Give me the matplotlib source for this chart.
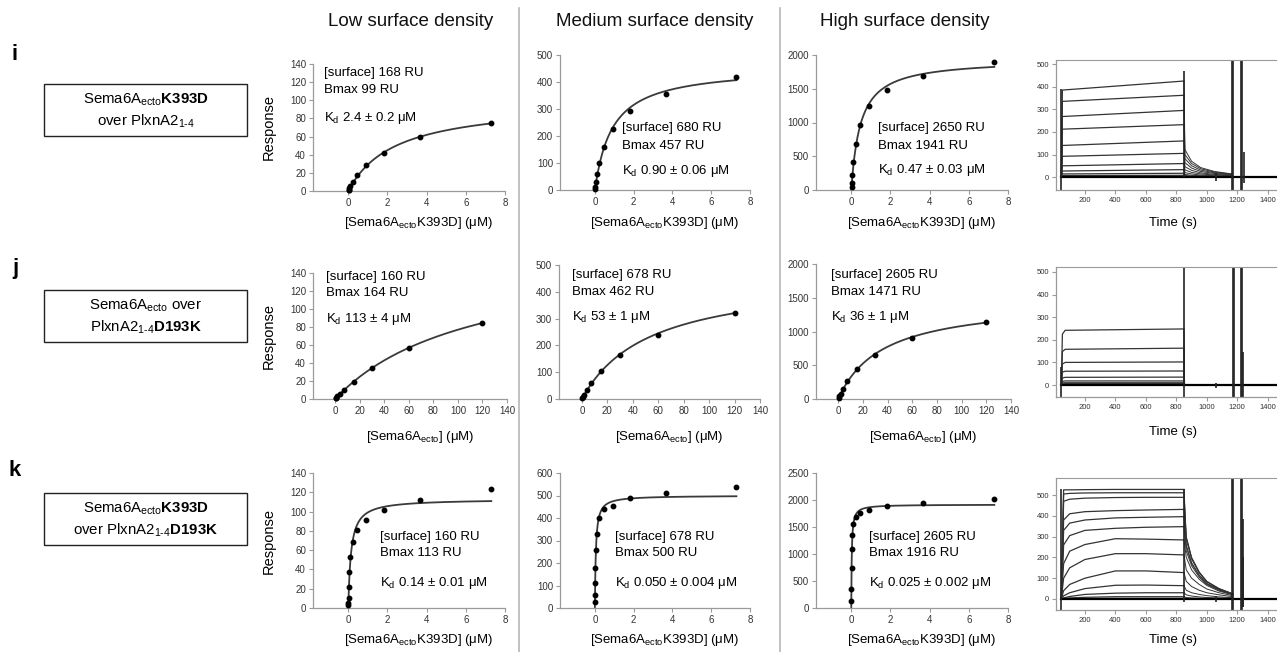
import numpy as np
import matplotlib.pyplot as plt
from matplotlib.patches import Rectangle

plt.rcParams['font.family'] = ['Liberation Sans', 'DejaVu Sans']
plt.rcParams['mathtext.fontset'] = 'custom'
plt.rcParams['mathtext.rm'] = 'Liberation Sans'
plt.rcParams['mathtext.it'] = 'Liberation Sans:italic'
plt.rcParams['mathtext.bf'] = 'Liberation Sans:bold'

W, H = 1277, 652

# ---- equilibrium binding data (concentration in uM, response in RU) ----
conc_k393d = [7.3, 3.65, 1.83, 0.91, 0.46, 0.23, 0.11, 0.057, 0.029, 0.014]
conc_wt = [120, 60, 30, 15, 7.5, 3.75, 1.9, 0.94, 0.47]
conc_k393d_k = [7.3, 3.65, 1.83, 0.91, 0.46, 0.23, 0.11, 0.057, 0.029, 0.014, 0.007, 0.0035]

resp_i_low = [75, 59, 42, 29, 18, 10, 5, 3, 1.5, 0.7]
resp_i_med = [420, 357, 292, 225, 160, 100, 60, 30, 12, 5]
resp_i_high = [1890, 1690, 1480, 1240, 960, 680, 420, 220, 100, 40]

resp_j_low = [84, 57, 34, 19, 10.5, 5.5, 3, 1.5, 0.7]
resp_j_med = [322, 240, 163, 103, 60, 33, 15, 8, 4]
resp_j_high = [1145, 900, 650, 440, 265, 150, 80, 40, 20]

resp_k_low = [123, 112, 102, 91, 81, 68, 53, 37, 22, 10, 5, 3]
resp_k_med = [540, 510, 490, 455, 440, 400, 330, 260, 180, 110, 60, 25]
resp_k_high = [2010, 1940, 1890, 1810, 1760, 1690, 1560, 1360, 1090, 740, 360, 130]

# fitted parameters printed on the panels (Bmax RU, Kd uM)
surface = [[168, 680, 2650], [160, 678, 2605], [160, 678, 2605]]
bmax = [[99, 457, 1941], [164, 462, 1471], [113, 500, 1916]]
kd = [[2.4, 0.90, 0.47], [113, 53, 36], [0.14, 0.050, 0.025]]
kd_text = [['2.4 ± 0.2', '0.90 ± 0.06', '0.47 ± 0.03'],
           ['113 ± 4', '53 ± 1', '36 ± 1'],
           ['0.14 ± 0.01', '0.050 ± 0.004', '0.025 ± 0.002']]

# ---- sensorgram traces (time s, response RU) ----
t_i_assoc = [45, 52, 850]
sg_i_assoc = [[0, 385, 425], [0, 335, 362], [0, 268, 295], [0, 212, 232],
              [0, 140, 160], [0, 92, 105], [0, 50, 60], [0, 27, 33],
              [0, 14, 17], [0, 7, 8], [0, 2, 3]]
t_i_dissoc = [850, 856, 900, 960, 1050, 1165]
sg_i_dissoc = [[425, 122, 70, 42, 25, 14], [362, 100, 60, 37, 22, 13],
               [295, 82, 50, 31, 19, 11], [232, 64, 40, 25, 16, 10],
               [160, 46, 30, 19, 12, 8], [105, 32, 21, 14, 9, 6],
               [60, 20, 14, 9, 6, 4], [33, 12, 8, 6, 4, 3],
               [17, 7, 5, 4, 3, 2], [8, 4, 3, 2, 2, 1], [3, 1, 1, 1, 1, 0]]
spk_i_t = [45, 850, 1166, 1174, 1222, 1229, 1245, 1060]
spk_i_lo = [-60, 0, -100, -100, -100, -100, -25, -18]
spk_i_hi = [390, 470, 700, 700, 700, 700, 110, 18]

t_j_assoc = [45, 52, 70, 850, 853]
sg_j_assoc = [[0, 225, 242, 248, 5], [0, 148, 158, 163, 4], [0, 93, 100, 102, 3],
              [0, 57, 61, 62, 2], [0, 31, 34, 35, 2], [0, 16, 18, 18, 1],
              [0, 9, 10, 10, 1], [0, 5, 6, 6, 0], [0, 2, 3, 3, 0]]
spk_j_t = [45, 850, 1170, 1177, 1224, 1231, 1240, 1060]
spk_j_lo = [-60, -100, -100, -100, -100, -100, -55, -12]
spk_j_hi = [80, 700, 700, 700, 700, 700, 145, 8]

t_k_assoc = [45, 60, 100, 200, 400, 600, 850]
sg_k_assoc = [[0, 525, 525, 526, 527, 527, 527], [0, 505, 508, 510, 511, 511, 511],
              [0, 470, 480, 485, 488, 489, 489], [0, 380, 410, 420, 425, 428, 431],
              [0, 330, 365, 380, 390, 393, 396], [0, 260, 305, 330, 340, 345, 348],
              [0, 170, 230, 262, 290, 288, 284], [0, 100, 150, 190, 218, 218, 212],
              [0, 40, 70, 100, 135, 135, 127], [0, 15, 30, 50, 66, 67, 64],
              [0, 5, 12, 22, 28, 30, 30], [0, 2, 5, 8, 11, 11, 11],
              [0, 0, 1, 2, 3, 3, 3]]
t_k_dissoc = [850, 865, 900, 950, 1000, 1080, 1170]
sg_k_dissoc = [[527, 300, 200, 130, 85, 50, 25], [511, 295, 198, 128, 84, 50, 25],
               [489, 285, 192, 125, 82, 48, 24], [431, 260, 175, 115, 75, 45, 22],
               [396, 250, 170, 112, 73, 44, 22], [348, 230, 160, 105, 70, 42, 21],
               [284, 200, 140, 95, 65, 38, 20], [212, 140, 100, 70, 48, 30, 16],
               [127, 85, 60, 42, 30, 20, 11], [64, 42, 30, 22, 16, 10, 6],
               [30, 20, 14, 10, 7, 5, 3], [11, 7, 5, 4, 3, 2, 1],
               [3, 2, 1, 1, 1, 0, 0]]
spk_k_t = [45, 850, 1166, 1174, 1222, 1228, 1235, 1240, 1060]
spk_k_lo = [-60, -15, -100, -100, -100, -100, -40, -40, -15]
spk_k_hi = [527, 527, 700, 700, 700, 700, 385, 200, 15]

col_titles = ['Low surface density', 'Medium surface density', 'High surface density']
row_letters = ['i', 'j', 'k']
xlab_k393d = r'[Sema6A$_{\mathrm{ecto}}$K393D] (μM)'
xlab_wt = r'[Sema6A$_{\mathrm{ecto}}$] (μM)'
sub14 = '$_{\\mathrm{1\u20104}}$'
box_lines = [[r'Sema6A$_{\mathrm{ecto}}$$\mathbf{K393D}$', 'over PlxnA2' + sub14],
             [r'Sema6A$_{\mathrm{ecto}}$ over', 'PlxnA2' + sub14 + r'$\mathbf{D193K}$'],
             [r'Sema6A$_{\mathrm{ecto}}$$\mathbf{K393D}$', 'over PlxnA2' + sub14 + r'$\mathbf{D193K}$']]

fig = plt.figure(figsize=(W / 100, H / 100), dpi=100)


def px_axes(l, t, r, b):
    return fig.add_axes([l / W, 1 - b / H, (r - l) / W, (b - t) / H])


def fx(x):
    return x / W


def fy(y):
    return 1 - y / H


def style(ax, fs=7):
    for s in ['top', 'right']:
        ax.spines[s].set_visible(False)
    for s in ['left', 'bottom']:
        ax.spines[s].set_color('#9a9a9a')
        ax.spines[s].set_linewidth(0.9)
    ax.tick_params(direction='out', length=3, width=0.8, color='#9a9a9a',
                   labelsize=fs, labelcolor='#333333', pad=2)


# column headers and separators
for x, t in zip([411, 655, 905], col_titles):
    fig.text(fx(x), fy(22), t, ha='center', va='center', fontsize=13.5, color='#111111')
for x in [519, 780]:
    fig.add_artist(plt.Line2D([fx(x), fx(x)], [fy(8), fy(652)], color='#b0b0b0', lw=1.1))

# row labels and condition boxes
row_box_top = [84, 290, 493]
for r in range(3):
    fig.text(fx(15), fy([55, 268, 470][r]), row_letters[r], fontsize=16, fontweight='bold',
             ha='center', va='center')
    top = row_box_top[r]
    fig.add_artist(Rectangle((fx(44), fy(top + 52)), fx(203), 52 / H, transform=fig.transFigure,
                             fill=False, ec='#222222', lw=1.0))
    fig.text(fx(146), fy(top + 16), box_lines[r][0], ha='center', va='center', fontsize=10.8)
    fig.text(fx(146), fy(top + 37), box_lines[r][1], ha='center', va='center', fontsize=10.8)

# binding isotherm panels
panel_px = [
    [(313, 64, 505, 191), (560, 55, 750, 190), (816, 55, 1008, 190)],
    [(313, 273, 507, 399), (559, 265, 760, 399), (816, 264, 1011, 399)],
    [(313, 473, 505, 608), (560, 473, 750, 608), (816, 473, 1008, 608)],
]
ylims = [[140, 500, 2000], [140, 500, 2000], [140, 600, 2500]]
ysteps = [[20, 100, 500], [20, 100, 500], [20, 100, 500]]
concs = [conc_k393d, conc_wt, conc_k393d_k]
resps = [[resp_i_low, resp_i_med, resp_i_high],
         [resp_j_low, resp_j_med, resp_j_high],
         [resp_k_low, resp_k_med, resp_k_high]]
text_px = [
    [(324, 73, 90, 118), (622, 128, 146, 171), (878, 128, 146, 170)],
    [(326, 277, 293, 319), (572, 275, 292, 317), (831, 275, 292, 317)],
    [(380, 537, 553, 583), (615, 537, 553, 583), (869, 537, 553, 583)],
]
xlab_y = [223, 437, 640]

for r in range(3):
    for c in range(3):
        ax = px_axes(*panel_px[r][c])
        style(ax)
        x = concs[r]
        y = resps[r][c]
        xmax = 140 if r == 1 else 8
        ax.set_xlim(-18 if r == 1 else -1.8, xmax)
        ax.set_ylim(0, ylims[r][c])
        ax.set_xticks(np.arange(0, xmax + 1, 20 if r == 1 else 2))
        ax.set_yticks(np.arange(0, ylims[r][c] + 1, ysteps[r][c]))
        xf = np.linspace(0, max(x), 400)
        ax.plot(xf, bmax[r][c] * xf / (kd[r][c] + xf), color='#3a3a3a', lw=1.3, clip_on=False)
        ax.plot(x, y, 'o', color='black', ms=3.2, clip_on=False, zorder=3)
        tx, ty1, ty2, ty3 = text_px[r][c]
        fs = 9.5
        fig.text(fx(tx), fy(ty1), '[surface] %d RU' % surface[r][c], fontsize=fs, va='center')
        fig.text(fx(tx), fy(ty2), 'Bmax %d RU' % bmax[r][c], fontsize=fs, va='center')
        fig.text(fx(tx), fy(ty3), r'K$_{\mathrm{d}}$ ' + kd_text[r][c] + ' μM', fontsize=fs, va='center')
        l, t, rr, b = panel_px[r][c]
        fig.text(fx((l + rr) / 2 + 10), fy(xlab_y[r]), xlab_k393d if r != 1 else xlab_wt,
                 ha='center', va='center', fontsize=9.5)
        if c == 0:
            fig.text(fx(269), fy((t + b) / 2), 'Response', rotation=90, ha='center', va='center',
                     fontsize=10.5)

# sensorgram panels
sg_px = [(1056, 60, 1283, 190), (1056, 267, 1283, 397), (1056, 478, 1283, 610)]
sg_ylim = [(-57, 518), (-53, 522), (-53, 582)]
sg_assoc = [(t_i_assoc, sg_i_assoc), (t_j_assoc, sg_j_assoc), (t_k_assoc, sg_k_assoc)]
sg_dissoc = [(t_i_dissoc, sg_i_dissoc), None, (t_k_dissoc, sg_k_dissoc)]
sg_spk = [(spk_i_t, spk_i_lo, spk_i_hi), (spk_j_t, spk_j_lo, spk_j_hi),
          (spk_k_t, spk_k_lo, spk_k_hi)]
time_y = [223, 432, 640]

for r in range(3):
    ax = px_axes(*sg_px[r])
    style(ax, fs=5.5)
    ax.spines['top'].set_visible(True)
    ax.spines['top'].set_color('#9a9a9a')
    ax.set_xlim(10, 1500)
    ax.set_ylim(*sg_ylim[r])
    ax.set_xticks(np.arange(200, 1401, 200))
    ax.set_yticks(np.arange(0, 501, 100))
    ta, va = sg_assoc[r]
    for v in va:
        ax.plot(ta, v, color='#333333', lw=0.9)
    if sg_dissoc[r] is not None:
        td, vd = sg_dissoc[r]
        for v in vd:
            ax.plot(td, v, color='#333333', lw=0.7)
    ax.plot([45, 1500], [0, 0], color='black', lw=1.6)
    st, slo, shi = sg_spk[r]
    ax.vlines(st, slo, shi, color='#222222', lw=1.2)
    fig.text(fx(1173), fy(time_y[r]), 'Time (s)', ha='center', va='center', fontsize=9.5)

fig.savefig('out.png', dpi=100)
